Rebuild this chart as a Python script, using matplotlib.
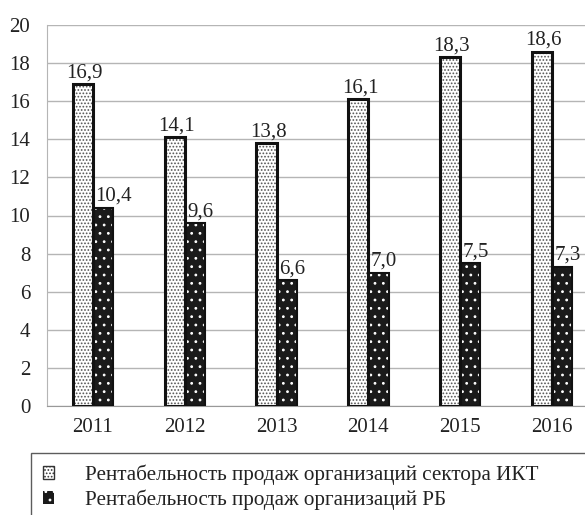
import matplotlib
matplotlib.use("Agg")
import matplotlib.pyplot as plt
from matplotlib.patches import Patch
import numpy as np

years = ["2011", "2012", "2013", "2014", "2015", "2016"]
ikt = [16.9, 14.1, 13.8, 16.1, 18.3, 18.6]
rb = [10.4, 9.6, 6.6, 7.0, 7.5, 7.3]
legend_labels = ["Рентабельность продаж организаций сектора ИКТ",
                 "Рентабельность продаж организаций РБ"]

plt.rcParams['font.family'] = ['Liberation Serif', 'DejaVu Serif']
plt.rcParams['hatch.linewidth'] = 0.8

fig = plt.figure(figsize=(5.85, 5.15), dpi=100)
ax = fig.add_axes([47 / 585, 1 - 406 / 515, 1 - 47 / 585, (406 - 25) / 515])

x = np.arange(len(years))
w = 0.22

# ICT bars: white with dense dots, thick black border
ax.bar(x - w / 2, ikt, w, color='white', edgecolor='#555555', hatch='.....',
       linewidth=0, zorder=3)
ax.bar(x - w / 2, ikt, w, fill=False, edgecolor='#111111', linewidth=2.2, zorder=4)

# RB bars: black with sparse white dots
ax.bar(x + w / 2, rb, w, color='#1a1a1a', edgecolor='white', hatch='..',
       linewidth=0, zorder=3)
ax.bar(x + w / 2, rb, w, fill=False, edgecolor='#111111', linewidth=1.5, zorder=4)

for i in range(len(years)):
    ax.text(x[i] - w / 2 + 0.02, ikt[i] + 0.1, f"{ikt[i]:.1f}".replace('.', ','),
            ha='center', va='bottom', fontsize=15, color='#222222', zorder=6)
    ax.text(x[i] + 0.03, rb[i] + 0.1, f"{rb[i]:.1f}".replace('.', ','),
            ha='left', va='bottom', fontsize=15, color='#222222', zorder=6)

ax.set_xlim(-0.5, 5.36)
ax.set_ylim(0, 20)
ax.set_yticks(range(0, 21, 2))
ax.set_xticks(x)
ax.set_xticklabels(years)
ax.tick_params(axis='both', length=0, labelsize=15, labelcolor='#222222')
ax.tick_params(axis='x', pad=9)
ax.tick_params(axis='y', pad=12)
ax.yaxis.grid(True, color='#b5b5b5', linewidth=1, zorder=0)
ax.set_axisbelow(True)
for s in ['top', 'right']:
    ax.spines[s].set_visible(False)
ax.spines['left'].set_color('#b5b5b5')
ax.spines['bottom'].set_color('#999999')

handles = [Patch(facecolor='white', edgecolor='#333333', hatch='.....', linewidth=1),
           Patch(facecolor='#1a1a1a', edgecolor='white', hatch='..', linewidth=0)]
top = 1 - 453 / 515
leg = fig.legend(handles, legend_labels, loc='upper left',
                 bbox_to_anchor=(31 / 585, top - 0.2, 1.0, 0.2), mode='expand',
                 fontsize=15.2, frameon=True, fancybox=False, handlelength=0.55,
                 handleheight=0.55, handletextpad=1.45, borderpad=0.55,
                 labelspacing=0.22, borderaxespad=0)
leg.get_frame().set_edgecolor('#333333')
leg.get_frame().set_linewidth(1)
for t in leg.get_texts():
    t.set_color('#222222')

plt.savefig("out.png", dpi=100)
plt.close()
